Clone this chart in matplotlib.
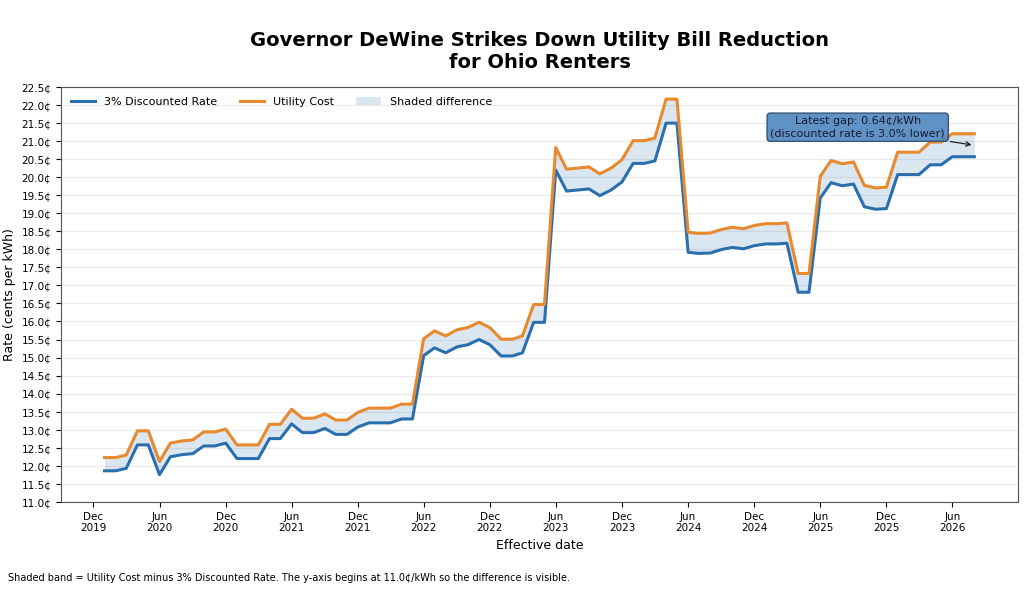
import numpy as np
import pandas as pd
import matplotlib
matplotlib.use("Agg")
import matplotlib.pyplot as plt
import matplotlib.dates as mdates
from matplotlib.patches import Patch
from matplotlib.ticker import MultipleLocator, FuncFormatter

# =====================================================
# DATA (cents per kWh)
# =====================================================

dates = pd.date_range("2020-01-01", "2026-08-01", freq="MS")

utility_cost = [
    # 2020
    12.23, 12.23, 12.30, 12.97, 12.97, 12.12, 12.63, 12.69, 12.72, 12.94, 12.94, 13.02,
    # 2021
    12.58, 12.58, 12.58, 13.15, 13.15, 13.57, 13.32, 13.32, 13.44, 13.27, 13.27, 13.48,
    # 2022
    13.60, 13.60, 13.60, 13.71, 13.71, 15.52, 15.74, 15.60, 15.77, 15.83, 15.98, 15.83,
    # 2023
    15.51, 15.51, 15.60, 16.47, 16.47, 20.82, 20.22, 20.25, 20.28, 20.09, 20.25, 20.48,
    # 2024
    21.01, 21.01, 21.08, 22.16, 22.16, 18.47, 18.44, 18.45, 18.55, 18.61, 18.57, 18.66,
    # 2025
    18.71, 18.71, 18.73, 17.33, 17.33, 20.02, 20.46, 20.37, 20.42, 19.77, 19.70, 19.72,
    # 2026
    20.69, 20.69, 20.69, 20.97, 20.97, 21.20, 21.20, 21.20,
]

DISCOUNT = 0.03
cost = np.array(utility_cost)
discounted = cost * (1 - DISCOUNT)

BLUE = "#2a6fad"
ORANGE = "#e8892d"
SHADE = "steelblue"

# =====================================================
# FIGURE
# =====================================================

fig = plt.figure(figsize=(10.24, 5.99), dpi=100)
ax = fig.add_axes([0.0596, 0.162, 0.9344, 0.693])

ax.fill_between(dates, discounted, cost, color=SHADE, alpha=0.2, linewidth=0)
ax.plot(dates, discounted, color=BLUE, linewidth=2.2, label="3% Discounted Rate")
ax.plot(dates, cost, color=ORANGE, linewidth=2.2, label="Utility Cost")

ax.set_ylim(11.0, 22.5)
ax.yaxis.set_major_locator(MultipleLocator(0.5))
ax.yaxis.set_major_formatter(FuncFormatter(lambda v, p: f"{v:.1f}\u00a2"))

ax.xaxis.set_major_locator(mdates.MonthLocator(bymonth=[6, 12]))
ax.xaxis.set_major_formatter(mdates.DateFormatter("%b\n%Y"))
ax.tick_params(axis="both", labelsize=7.5)

ax.grid(axis="y", color="#dddddd", linewidth=0.8, alpha=0.6)
ax.set_axisbelow(True)
for s in ax.spines.values():
    s.set_color("#555555")

ax.set_xlabel("Effective date", fontsize=9)
ax.set_ylabel("Rate (cents per kWh)", fontsize=9)

fig.suptitle("Governor DeWine Strikes Down Utility Bill Reduction\nfor Ohio Renters",
             fontsize=14, fontweight="bold", x=0.527, y=0.948, linespacing=1.2)

# legend
handles = [
    plt.Line2D([], [], color=BLUE, linewidth=2.2),
    plt.Line2D([], [], color=ORANGE, linewidth=2.2),
    Patch(facecolor=SHADE, alpha=0.2, edgecolor="none"),
]
labels = ["3% Discounted Rate", "Utility Cost", "Shaded difference"]
ax.legend(handles, labels, loc="upper left", ncol=3, frameon=False,
          fontsize=8, columnspacing=2.0, handlelength=2.2)

# latest gap annotation
gap = cost[-1] - discounted[-1]
pct = gap / cost[-1] * 100
ax.annotate(
    f"Latest gap: {gap:.2f}\u00a2/kWh\n(discounted rate is {pct:.1f}% lower)",
    xy=(dates[-1], (cost[-1] + discounted[-1]) / 2),
    xytext=(-84, 13), textcoords="offset points",
    ha="center", va="center", fontsize=8, color="#1a1a2e",
    bbox=dict(boxstyle="round,pad=0.3", fc="#4f86c0", ec="#2c4a6e", alpha=0.9),
    arrowprops=dict(arrowstyle="->", color="#222222", lw=0.9),
)

fig.text(0.008, 0.035,
         "Shaded band = Utility Cost minus 3% Discounted Rate. "
         "The y-axis begins at 11.0\u00a2/kWh so the difference is visible.",
         fontsize=7, ha="left", va="center")

fig.savefig("out.png", dpi=100)
